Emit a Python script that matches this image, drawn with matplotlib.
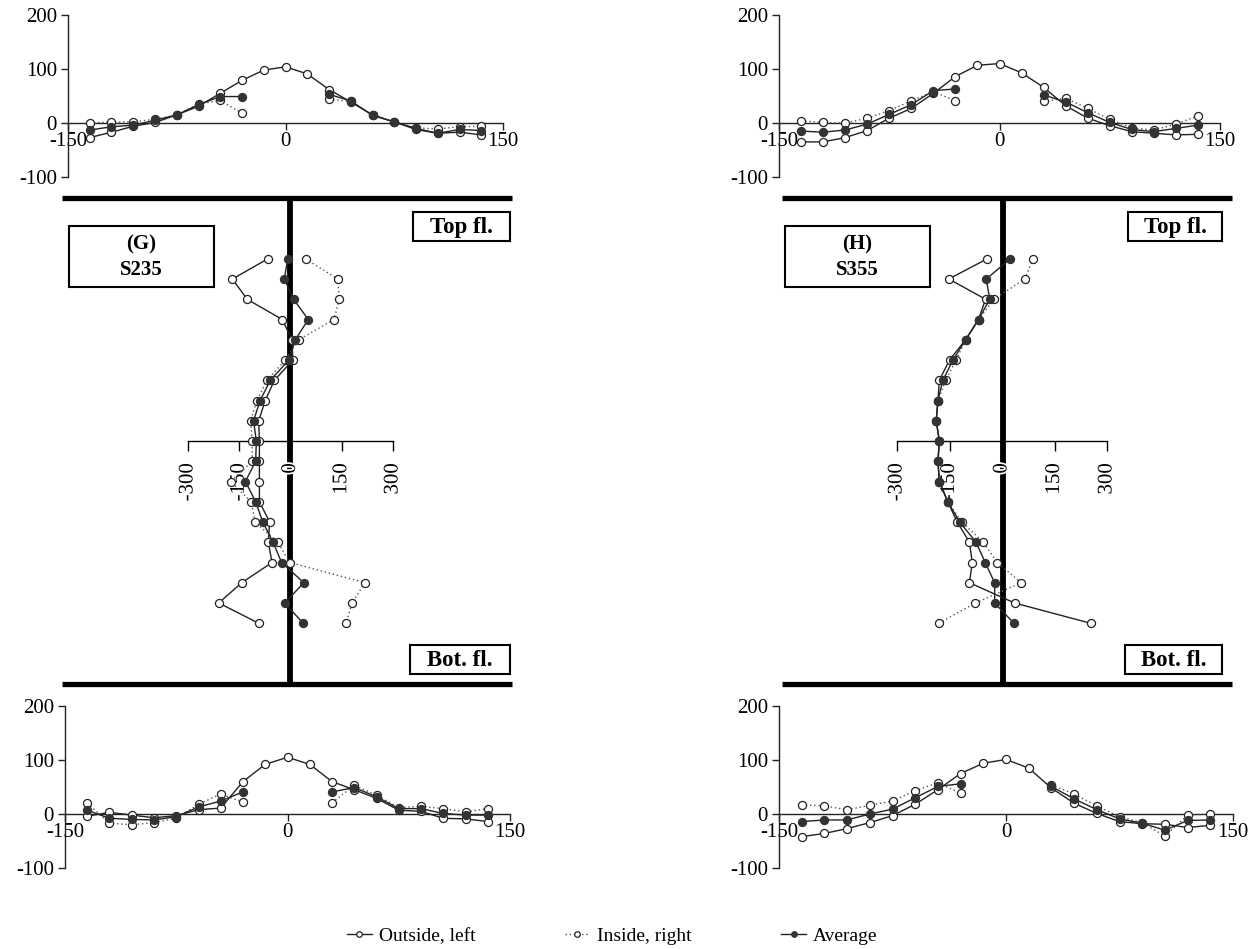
import numpy as np
import matplotlib
matplotlib.use('Agg')
import matplotlib.pyplot as plt
import matplotlib.patheffects as pe
from matplotlib.lines import Line2D
from matplotlib.patches import Rectangle

plt.rcParams['font.family'] = ['Liberation Serif', 'DejaVu Serif']
plt.rcParams['axes.unicode_minus'] = False

nan = np.nan

# ---------------- data ----------------
# flange measurement positions (mm from web)
flange_x = [-135, -120, -105, -90, -75, -60, -45, -30, -15, 0, 15, 30, 45, 60, 75, 90, 105, 120, 135]

# (G) S235 top flange
g_top_out = [-27, -17, -6, 1, 15, 31, 55, 79, 98, 104, 91, 62, 39, 15, 2, -12, -19, -17, -22]
g_top_in  = [0, 2, 2, 7, 15, 35, 42, 18, nan, nan, nan, 44, 40, 15, 2, -9, -11, -7, -6]
g_top_avg = [-13, -7, -4, 5, 15, 34, 49, 49, nan, nan, nan, 53, 41, 14, 2, -10, -19, -12, -14]

# (G) S235 bottom flange
g_bot_out = [-4, 3, -2, -7, -3, 8, 11, 60, 92, 105, 92, 60, 45, 29, 7, 5, -8, -9, -14]
g_bot_in  = [20, -17, -20, -16, -8, 18, 37, 22, nan, nan, nan, 21, 53, 35, 12, 14, 10, 4, 10]
g_bot_avg = [7, -8, -10, -11, -5, 13, 24, 41, nan, nan, nan, 41, 49, 32, 10, 10, 1, -2, -2]

# (H) S355 top flange
h_top_out = [-35, -35, -27, -14, 9, 27, 55, 86, 107, 110, 93, 66, 32, 9, -5, -16, -19, -22, -21]
h_top_in  = [4, 1, 0, 9, 23, 41, 58, 41, nan, nan, nan, 40, 46, 27, 7, -9, -13, -2, 13]
h_top_avg = [-15, -17, -13, -2, 16, 34, 60, 63, nan, nan, nan, 52, 39, 19, 1, -12, -16, -10, -4]

# (H) S355 bottom flange
h_bot_out = [-42, -36, -27, -16, -3, 18, 45, 75, 94, 101, 85, 48, 20, 1, -14, -18, -19, -25, -21]
h_bot_in  = [17, 15, 8, 16, 24, 43, 58, 38, nan, nan, nan, 54, 37, 15, -5, -16, -41, -2, 0]
h_bot_avg = [-14, -11, -11, 0, 9, 30, 51, 56, nan, nan, nan, 51, 28, 8, -9, -17, -30, -12, -11]

# web measurement positions (mm from mid-height, top to bottom)
web_z = [180, 160, 140, 120, 100, 80, 60, 40, 20, 0, -20, -40, -60, -80, -100, -120, -140, -160, -180]

g_web_out = [-66, -170, -127, -24, 4, 7, -47, -74, -93, -91, -91, -91, -91, -61, -65, -54, -143, -210, -93]
g_web_in  = [44, 138, 143, 127, 24, -15, -69, -98, -117, -112, -112, -175, -115, -104, -37, -2, 218, 180, 163]
g_web_avg = [-8, -18, 9, 52, 14, -5, -59, -89, -108, -100, -102, -132, -102, -81, -51, -26, 39, -17, 37]

h_web_out = [-42, -152, -47, -67, -104, -150, -179, -183, -188, -179, -183, -179, -155, -128, -93, -85, -93, 36, 253]
h_web_in  = [89, 65, -23, -67, -104, -131, -161, -183, -188, -179, -183, -179, -155, -115, -53, -14, 55, -76, -181]
h_web_avg = [24, -45, -35, -67, -104, -140, -169, -183, -188, -179, -183, -179, -155, -121, -74, -48, -21, -21, 34]

flange_ticks_x = [-150, 0, 150]
flange_ticks_y = [-100, 0, 100, 200]
web_ticks = [-300, -150, 0, 150, 300]
series_names = ['Outside, left', 'Inside, right', 'Average']
panel_labels = ['(G)\nS235', '(H)\nS355']

# ---------------- styles ----------------
DARK = '#222222'
st_out = dict(color=DARK, lw=1.0, ls='-', marker='o', ms=5.8, mfc='white', mec=DARK, mew=0.9)
st_in = dict(color='#555555', lw=1.0, ls=(0, (1, 2)), marker='o', ms=5.8, mfc='white', mec=DARK, mew=0.9)
st_avg = dict(color=DARK, lw=1.0, ls='-', marker='o', ms=5.8, mfc='#333333', mec='#333333', mew=0.9)

W, H = 1257, 949
fig = plt.figure(figsize=(W / 100, H / 100), dpi=100)


def px_axes(x0, x1, y_top, y_bot, z=2):
    ax = fig.add_axes([x0 / W, 1 - y_bot / H, (x1 - x0) / W, (y_bot - y_top) / H])
    ax.set_zorder(z)
    ax.patch.set_alpha(0)
    return ax


# overlay for the I-section drawing, boxes and labels
ov = fig.add_axes([0, 0, 1, 1])
ov.set_zorder(1)
ov.set_xlim(0, W)
ov.set_ylim(H, 0)
ov.axis('off')

for (xl, xr, xw) in [(62, 512, 290), (782, 1232, 1003)]:
    ov.plot([xl, xr], [198, 198], color='black', lw=3.8, solid_capstyle='butt')
    ov.plot([xl, xr], [684, 684], color='black', lw=3.8, solid_capstyle='butt')
    ov.plot([xw, xw], [198, 684], color='black', lw=4.2, solid_capstyle='butt')


def box(x0, x1, y0, y1, text, fs):
    ov.add_patch(Rectangle((x0, y0), x1 - x0, y1 - y0, fill=True, fc='white', ec='black', lw=1.5, zorder=3))
    ov.text((x0 + x1) / 2, (y0 + y1) / 2 + 1, text, ha='center', va='center', fontsize=fs,
            fontweight='bold', linespacing=1.35, zorder=4)


box(69, 214, 226, 287, panel_labels[0], 15)
box(785, 930, 226, 287, panel_labels[1], 15)
box(413, 510, 212, 241, 'Top fl.', 16.5)
box(1128, 1222, 212, 241, 'Top fl.', 16.5)
box(410, 510, 645, 674, 'Bot. fl.', 16.5)
box(1125, 1222, 645, 674, 'Bot. fl.', 16.5)


def flange(ax, out, ins, avg):
    ax.plot(flange_x, out, **st_out, zorder=3)
    ax.plot(flange_x, ins, **st_in, zorder=3)
    ax.plot(flange_x, avg, **st_avg, zorder=4)
    ax.set_xlim(-150, 150)
    ax.set_ylim(-100, 200)
    for s in ['top', 'right']:
        ax.spines[s].set_visible(False)
    ax.spines['bottom'].set_position(('data', 0))
    for s in ['left', 'bottom']:
        ax.spines[s].set_linewidth(1.0)
        ax.spines[s].set_color('#222222')
    ax.set_xticks(flange_ticks_x)
    ax.set_yticks(flange_ticks_y)
    ax.tick_params(direction='out', length=5, width=1.0, labelsize=15, color='#222222')
    ax.tick_params(axis='x', pad=1.5)
    ax.tick_params(axis='y', pad=3)


def web(ax, out, ins, avg):
    ax.plot(out, web_z, **st_out, zorder=3)
    ax.plot(ins, web_z, **st_in, zorder=3)
    ax.plot(avg, web_z, **st_avg, zorder=4)
    ax.set_xlim(-300, 300)
    ax.set_ylim(-240, 240)
    for s in ['top', 'right', 'left']:
        ax.spines[s].set_visible(False)
    ax.spines['bottom'].set_position(('data', 0))
    ax.spines['bottom'].set_linewidth(1.0)
    ax.set_yticks([])
    ax.set_xticks(web_ticks)
    ax.tick_params(axis='x', direction='out', length=7, width=1.0, labelsize=15,
                   labelrotation=90, pad=9)
    for lab in ax.get_xticklabels():
        lab.set_path_effects([pe.withStroke(linewidth=2.5, foreground='white')])


flange(px_axes(68, 503, 15, 177), g_top_out, g_top_in, g_top_avg)
flange(px_axes(779, 1220, 15, 177), h_top_out, h_top_in, h_top_avg)
flange(px_axes(65, 510, 706, 868), g_bot_out, g_bot_in, g_bot_avg)
flange(px_axes(779, 1233, 706, 868), h_bot_out, h_bot_in, h_bot_avg)

web(px_axes(188, 393, 198, 684, z=3), g_web_out, g_web_in, g_web_avg)
web(px_axes(897, 1107, 198, 684, z=3), h_web_out, h_web_in, h_web_avg)

# legend
handles = []
for st in [st_out, st_in, st_avg]:
    d = dict(st)
    d['ms'] = 4
    handles.append(Line2D([], [], **d))
fig.legend(handles, series_names, loc='center', bbox_to_anchor=(612 / W, 1 - 936 / H),
           ncol=3, frameon=False, fontsize=14, handlelength=1.3, handletextpad=0.35,
           columnspacing=4.6)

fig.savefig('out.png', dpi=100)
